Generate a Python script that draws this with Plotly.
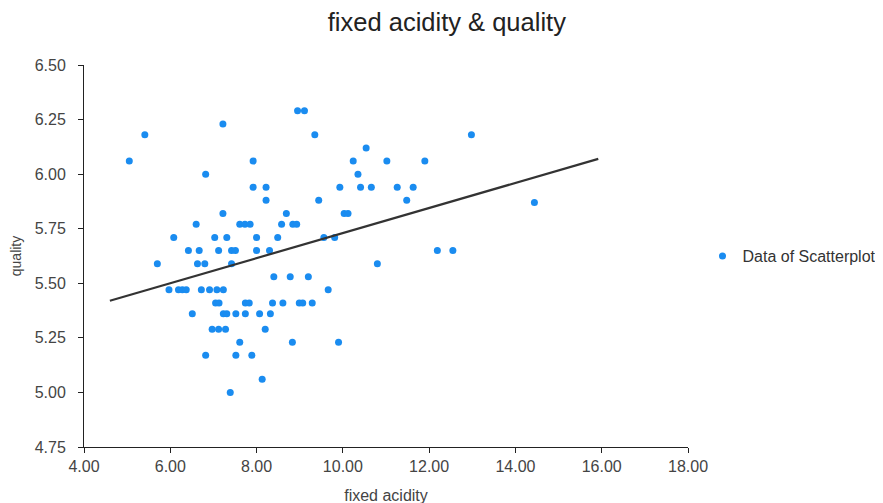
import plotly.graph_objects as go

# Scatter data (fixed acidity vs quality)
acidity = [
    8.95, 9.11,
    7.22,
    5.41, 9.35, 12.98,
    10.54,
    5.05, 7.92, 10.24, 11.02, 11.90,
    6.82, 10.35,
    7.92, 8.22, 9.93, 10.41, 10.66, 11.26, 11.63,
    8.22, 9.44, 11.48, 14.44,
    7.22, 8.69, 10.03, 10.12,
    6.60, 7.61, 7.73, 7.85, 8.58, 8.84, 8.93,
    6.08, 7.03, 7.31, 8.00, 8.49, 9.56, 9.81,
    6.42, 6.67, 7.12, 7.42, 7.51, 8.00, 8.30, 12.19, 12.55,
    5.70, 6.63, 6.80, 7.42, 10.80,
    8.40, 8.78, 9.20,
    5.97, 6.19, 6.28, 6.37, 6.72, 6.91, 7.08, 7.23, 9.66,
    7.05, 7.13, 7.74, 7.83, 8.37, 8.61, 8.99, 9.07, 9.29,
    6.51, 7.23, 7.31, 7.52, 7.74, 8.07, 8.32,
    6.97, 7.12, 7.28, 8.20,
    7.61, 8.83, 9.90,
    6.82, 7.52, 7.89,
    8.13,
    7.39,
]
quality = (
    [6.29] * 2
    + [6.23] * 1
    + [6.18] * 3
    + [6.12] * 1
    + [6.06] * 5
    + [6.00] * 2
    + [5.94] * 7
    + [5.88, 5.88, 5.88, 5.87]
    + [5.82] * 4
    + [5.77] * 7
    + [5.71] * 7
    + [5.65] * 9
    + [5.59] * 5
    + [5.53] * 3
    + [5.47] * 9
    + [5.41] * 9
    + [5.36] * 7
    + [5.29] * 4
    + [5.23] * 3
    + [5.17] * 3
    + [5.06] * 1
    + [5.00] * 1
)

# Trend line endpoints
trend_x = [4.60, 15.92]
trend_y = [5.42, 6.07]

x_ticks = [4, 6, 8, 10, 12, 14, 16, 18]
y_ticks = [4.75, 5.00, 5.25, 5.50, 5.75, 6.00, 6.25, 6.50]

font_family = "Liberation Sans, Arial, Helvetica, sans-serif"

fig = go.Figure()
fig.add_trace(go.Scatter(
    x=acidity, y=quality, mode="markers", name="Data of Scatterplot",
    marker=dict(color="#1a8cf0", size=7, line=dict(width=0)),
))
fig.add_trace(go.Scatter(
    x=trend_x, y=trend_y, mode="lines", showlegend=False,
    line=dict(color="#333333", width=2.2), hoverinfo="skip",
))

axis_common = dict(
    showgrid=False, zeroline=False, showline=True, linecolor="#222222", linewidth=1,
    ticks="outside", ticklen=5, tickcolor="#222222", tickwidth=1,
    tickfont=dict(size=16, color="#444444"), tickformat=".2f",
    automargin=False,
)

fig.update_layout(
    width=883, height=503,
    paper_bgcolor="white", plot_bgcolor="white",
    font=dict(family=font_family, color="#444444"),
    title=dict(text="fixed acidity & quality", x=0.497, xanchor="center",
               y=0.972, yanchor="middle",
               font=dict(size=25.5, color="#222222")),
    margin=dict(l=76, r=203, t=57, b=64, autoexpand=False),
    xaxis=dict(range=[4, 18], tickvals=x_ticks,
               title=dict(text="fixed acidity", font=dict(size=16, color="#444444"), standoff=15),
               **axis_common),
    yaxis=dict(range=[4.75, 6.50], tickvals=y_ticks, ticklabelstandoff=9,
               title=dict(text="quality", font=dict(size=14, color="#444444"), standoff=12),
               **axis_common),
    legend=dict(x=1.024, xanchor="left", y=0.5, yanchor="middle",
                font=dict(size=16, color="#333333"), bgcolor="rgba(0,0,0,0)"),
    showlegend=True,
)

fig.write_html("out.html")
